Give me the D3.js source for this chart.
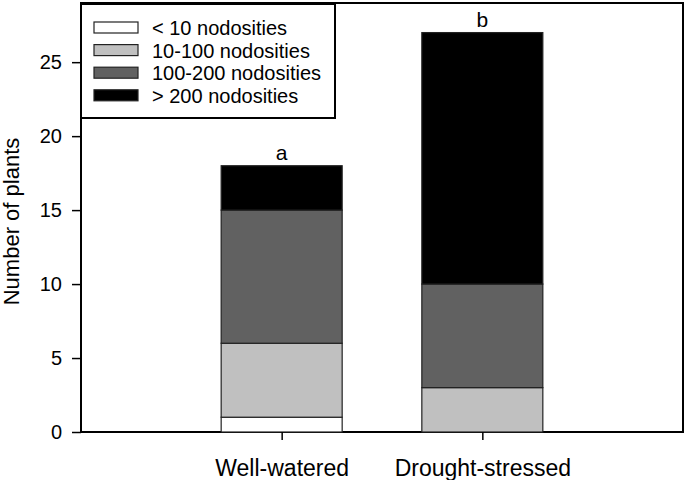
<!DOCTYPE html>
<html><head><meta charset="utf-8">
<script src="https://cdn.jsdelivr.net/npm/d3@7"></script>
<style>body{margin:0;background:#fff}svg{font-family:"Liberation Sans",Arial,sans-serif}</style>
</head><body><svg id="c" width="685" height="480"></svg>
<script>
const categories = ["Well-watered", "Drought-stressed"];
const seriesNames = ["< 10 nodosities", "10-100 nodosities", "100-200 nodosities", "> 200 nodosities"];
const lt10 = [1, 0];
const n10to100 = [5, 3];
const n100to200 = [9, 7];
const gt200 = [3, 17];
const letters = ["a", "b"];
const yTicks = [0, 5, 10, 15, 20, 25];
const colors = ["#ffffff", "#c0c0c0", "#616161", "#000000"];

const series = [lt10, n10to100, n100to200, gt200];
const svg = d3.select("#c");
const L = 81, R = 683, T = 3, B = 432;
const y = d3.scaleLinear().domain([0, 29]).range([B, T]);
const x = d3.scalePoint().domain(["", ...categories, " "]).range([L, R]);
const bw = 121;
const FF = "Liberation Sans, Arial, sans-serif";

svg.append("rect").attr("x", L).attr("y", T).attr("width", R - L).attr("height", B - T)
  .attr("fill", "none").attr("stroke", "#000").attr("stroke-width", 2);

const rows = categories.map((c, i) => { const o = {cat: c}; seriesNames.forEach((s, j) => o[s] = series[j][i]); return o; });
const stack = d3.stack().keys(seriesNames)(rows);
stack.forEach((layer, j) => {
  svg.append("g").selectAll("rect").data(layer).join("rect")
    .attr("x", d => x(d.data.cat) - bw / 2)
    .attr("y", d => y(d[1]))
    .attr("width", bw)
    .attr("height", d => y(d[0]) - y(d[1]))
    .attr("fill", colors[j])
    .attr("stroke", "#222").attr("stroke-width", 1.2)
    .style("display", d => d[1] - d[0] > 0 ? null : "none");
});

svg.append("g").selectAll("text").data(categories).join("text")
  .attr("x", d => x(d)).attr("y", (d, i) => y(d3.sum(series, s => s[i])) - 6)
  .attr("text-anchor", "middle").attr("font-size", 21).text((d, i) => letters[i]);

const ya = svg.append("g").attr("transform", `translate(${L},0)`)
  .call(d3.axisLeft(y).tickValues(yTicks).tickSize(9).tickPadding(10));
ya.select(".domain").remove();
ya.selectAll("line").attr("stroke-width", 1.5);
ya.selectAll("text").attr("font-size", 20).attr("font-family", FF).attr("fill", "#000");

const xa = svg.append("g").attr("transform", `translate(0,${B})`)
  .call(d3.axisBottom(x).tickValues(categories).tickSize(8).tickPadding(20));
xa.select(".domain").remove();
xa.selectAll("line").attr("stroke-width", 1.5);
xa.selectAll("text").attr("font-size", 23).attr("font-family", FF).attr("fill", "#000");

svg.append("text").attr("transform", `translate(19,${(T + B) / 2 + 4}) rotate(-90)`)
  .attr("text-anchor", "middle").attr("font-size", 22).text("Number of plants");

const lg = svg.append("g");
lg.append("rect").attr("x", L).attr("y", T + 1).attr("width", 254).attr("height", 114)
  .attr("fill", "#fff").attr("stroke", "#000").attr("stroke-width", 2);
seriesNames.forEach((s, j) => {
  const yy = 22 + j * 22.6;
  lg.append("rect").attr("x", 94).attr("y", yy).attr("width", 44).attr("height", 11)
    .attr("fill", colors[j]).attr("stroke", "#222").attr("stroke-width", 1.2);
  lg.append("text").attr("x", 152).attr("y", yy + 13).attr("font-size", 20).text(s);
});
</script></body></html>
